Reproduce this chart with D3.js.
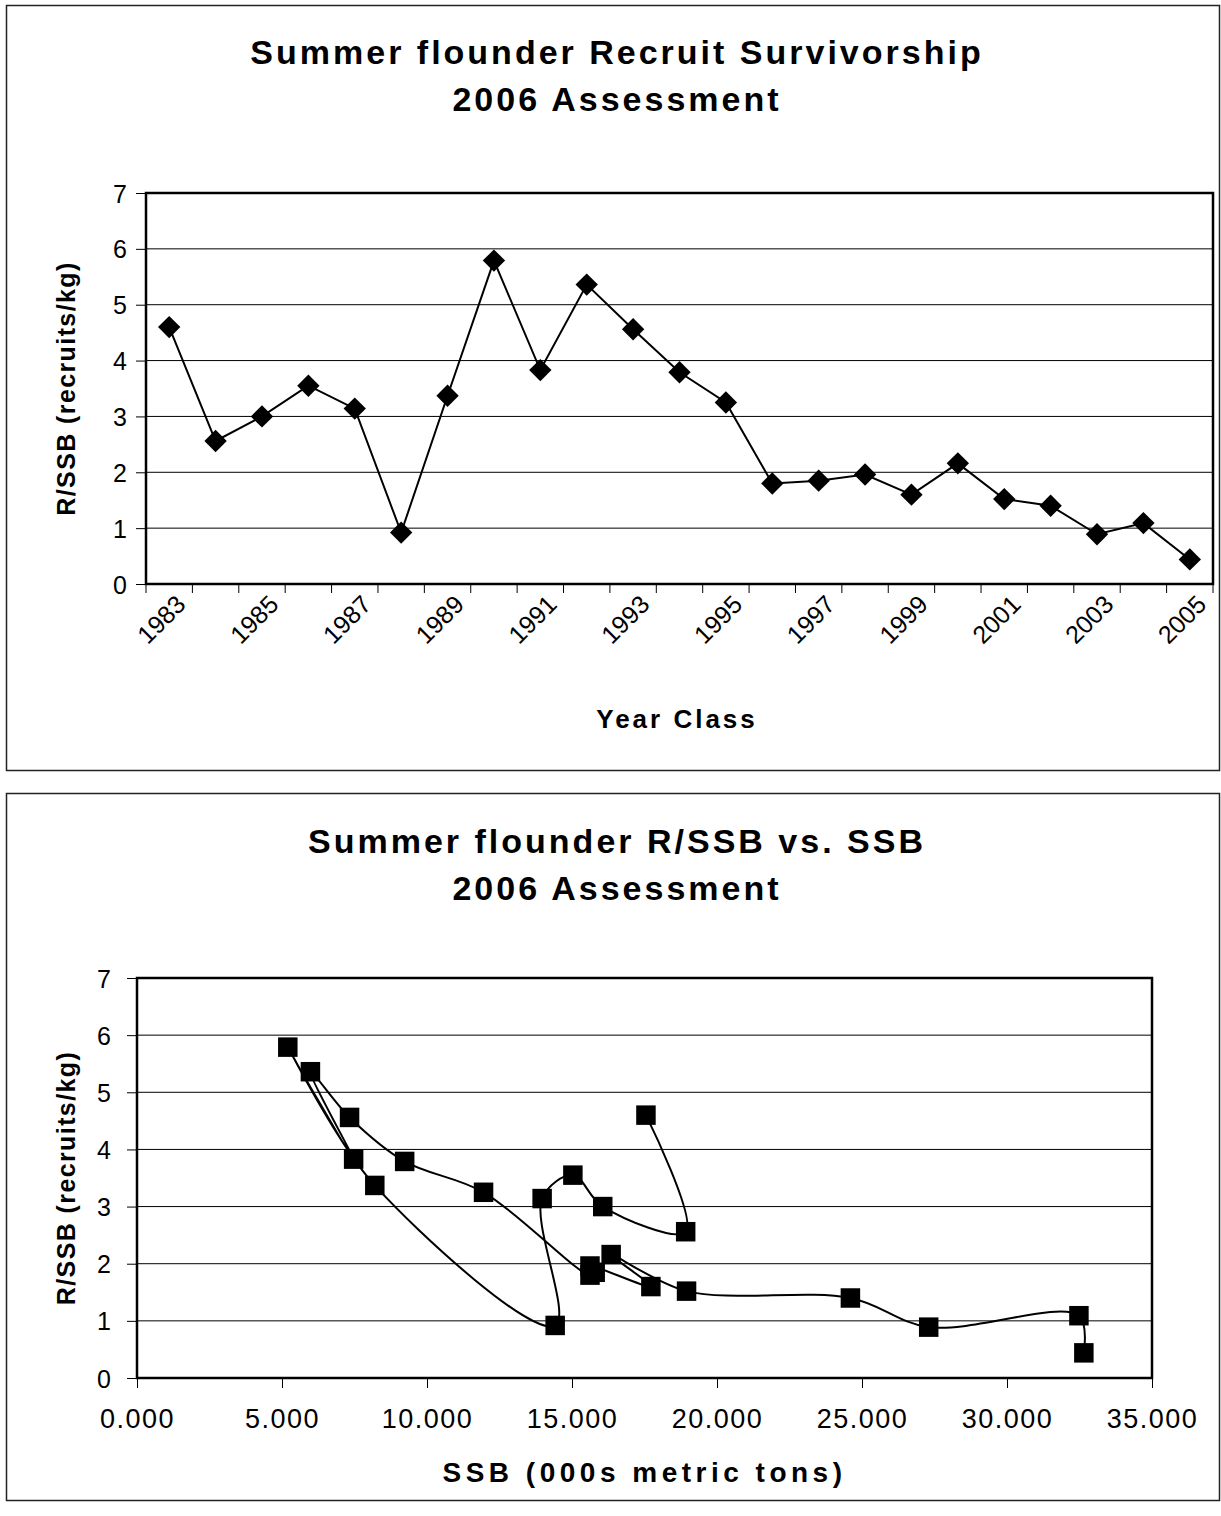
<!DOCTYPE html>
<html>
<head>
<meta charset="utf-8">
<script src="https://cdn.jsdelivr.net/npm/d3@7"></script>
<style>
  body { margin: 0; background: #fff; }
  text { font-family: "Liberation Sans", Arial, sans-serif; fill: #000; }
  .title { font-size: 34px; font-weight: bold; letter-spacing: 3px; }
  .axis-title { font-size: 26px; font-weight: bold; letter-spacing: 3px; }
</style>
</head>
<body>
<div id="chart"></div>
<script>
// Year classes and recruits per kg of SSB
const years = [1983, 1984, 1985, 1986, 1987, 1988, 1989, 1990, 1991, 1992, 1993, 1994,
               1995, 1996, 1997, 1998, 1999, 2000, 2001, 2002, 2003, 2004, 2005];
const rssb = [4.60, 2.56, 3.00, 3.55, 3.14, 0.92, 3.37, 5.79, 3.83, 5.36, 4.56, 3.79,
              3.25, 1.80, 1.85, 1.96, 1.60, 2.16, 1.52, 1.40, 0.89, 1.09, 0.44];
// Spawning stock biomass (000s metric tons), same year order
const ssb = [17.55, 18.92, 16.06, 15.03, 13.97, 14.42, 8.20, 5.20, 7.47, 5.98, 7.33, 9.23,
             11.95, 15.62, 15.80, 15.62, 17.72, 16.35, 18.95, 24.60, 27.30, 32.48, 32.65];
const yTicks = [0, 1, 2, 3, 4, 5, 6, 7];
const ssbTicks = [0, 5, 10, 15, 20, 25, 30, 35];

const W = 1221, H = 1516;
const svg = d3.select("#chart").append("svg")
    .attr("width", W)
    .attr("height", H);

// outer chart boxes
svg.append("rect").attr("x", 6.5).attr("y", 5.5).attr("width", 1213).attr("height", 765)
    .attr("fill", "none").attr("stroke", "#222").attr("stroke-width", 1.5);
svg.append("rect").attr("x", 6.5).attr("y", 793.5).attr("width", 1213).attr("height", 707)
    .attr("fill", "none").attr("stroke", "#222").attr("stroke-width", 1.5);

function drawTitle(lines, y0) {
    lines.forEach((t, i) => {
        svg.append("text").attr("class", "title")
            .attr("x", 617).attr("y", y0 + i * 47)
            .attr("text-anchor", "middle")
            .text(t);
    });
}

function drawYAxis(g, y, left, right, pad) {
    // gridlines
    g.selectAll(".grid").data(yTicks).enter().append("line")
        .attr("x1", left).attr("x2", right)
        .attr("y1", d => y(d)).attr("y2", d => y(d))
        .attr("stroke", "#000").attr("stroke-width", 1);
    const ax = g.append("g")
        .attr("transform", `translate(${left},0)`)
        .call(d3.axisLeft(y).tickValues(yTicks).tickSize(10).tickPadding(pad).tickFormat(d3.format("d")));
    ax.select(".domain").remove();
    ax.selectAll(".tick line").attr("stroke", "#000");
    ax.selectAll(".tick text").style("font-size", "25px").attr("dy", "0.36em");
}

function drawYTitle(cy) {
    svg.append("text").attr("class", "axis-title")
        .attr("transform", `translate(75,${cy}) rotate(-90)`)
        .attr("text-anchor", "middle")
        .style("font-size", "25px")
        .style("letter-spacing", "1.4px")
        .text("R/SSB (recruits/kg)");
}

// ---------- Chart 1: R/SSB by year class ----------
{
    const margin = { top: 193, left: 146, right: 1213, bottom: 584 };
    drawTitle(["Summer flounder Recruit Survivorship", "2006 Assessment"], 64);

    const x = d3.scaleBand().domain(years).range([margin.left, margin.right]).padding(0);
    const y = d3.scaleLinear().domain([0, 7]).range([margin.bottom, margin.top]);
    const g = svg.append("g");

    drawYAxis(g, y, margin.left, margin.right, 9);

    // ticks at category boundaries
    const bounds = d3.range(years.length + 1).map(i => margin.left + i * x.step());
    g.selectAll(".xt").data(bounds).enter().append("line")
        .attr("x1", d => d).attr("x2", d => d)
        .attr("y1", margin.bottom).attr("y2", margin.bottom + 9)
        .attr("stroke", "#000");

    // rotated year labels, every other year
    g.selectAll(".xl").data(years.filter((d, i) => i % 2 === 0)).enter().append("text")
        .style("font-size", "25px")
        .attr("text-anchor", "end")
        .attr("transform", d => `translate(${x(d) + x.bandwidth() / 2 + 18},${margin.bottom + 22}) rotate(-45)`)
        .text(d => d);

    // plot border
    g.append("rect")
        .attr("x", margin.left).attr("y", margin.top)
        .attr("width", margin.right - margin.left).attr("height", margin.bottom - margin.top)
        .attr("fill", "none").attr("stroke", "#000").attr("stroke-width", 2.5);

    const line = d3.line().x((d, i) => x(years[i]) + x.bandwidth() / 2).y(d => y(d));
    g.append("path").datum(rssb)
        .attr("d", line)
        .attr("fill", "none").attr("stroke", "#000").attr("stroke-width", 2);

    g.selectAll(".pt").data(rssb).enter().append("path")
        .attr("d", d3.symbol(d3.symbolSquare, 250))
        .attr("transform", (d, i) => `translate(${x(years[i]) + x.bandwidth() / 2},${y(d)}) rotate(45)`)
        .attr("fill", "#000");

    svg.append("text").attr("class", "axis-title")
        .attr("x", 677).attr("y", 728)
        .attr("text-anchor", "middle")
        .text("Year Class");

    drawYTitle((margin.top + margin.bottom) / 2);
}

// ---------- Chart 2: R/SSB vs SSB ----------
{
    const margin = { top: 978, left: 137, right: 1152, bottom: 1378 };
    drawTitle(["Summer flounder R/SSB vs. SSB", "2006 Assessment"], 853);

    const x = d3.scaleLinear().domain([0, 35]).range([margin.left, margin.right]);
    const y = d3.scaleLinear().domain([0, 7]).range([margin.bottom, margin.top]);
    const g = svg.append("g");

    drawYAxis(g, y, margin.left, margin.right, 16);

    const ax = g.append("g")
        .attr("transform", `translate(0,${margin.bottom})`)
        .call(d3.axisBottom(x).tickValues(ssbTicks).tickSize(10).tickPadding(21).tickFormat(d3.format(".3f")));
    ax.select(".domain").remove();
    ax.selectAll(".tick line").attr("stroke", "#000");
    ax.selectAll(".tick text").style("font-size", "27px").style("letter-spacing", "1.5px");

    g.append("rect")
        .attr("x", margin.left).attr("y", margin.top)
        .attr("width", margin.right - margin.left).attr("height", margin.bottom - margin.top)
        .attr("fill", "none").attr("stroke", "#000").attr("stroke-width", 2.5);

    const pts = ssb.map((s, i) => [s, rssb[i]]);
    const line = d3.line()
        .x(d => x(d[0])).y(d => y(d[1]))
        .curve(d3.curveCatmullRom.alpha(0.5));
    g.append("path").datum(pts)
        .attr("d", line)
        .attr("fill", "none").attr("stroke", "#000").attr("stroke-width", 2);

    g.selectAll(".pt").data(pts).enter().append("path")
        .attr("d", d3.symbol(d3.symbolSquare, 380))
        .attr("transform", d => `translate(${x(d[0])},${y(d[1])})`)
        .attr("fill", "#000");

    svg.append("text").attr("class", "axis-title")
        .attr("x", (margin.left + margin.right) / 2).attr("y", 1482)
        .attr("text-anchor", "middle")
        .style("font-size", "28px")
        .style("letter-spacing", "4.5px")
        .text("SSB (000s metric tons)");

    drawYTitle((margin.top + margin.bottom) / 2);
}
</script>
</body>
</html>
